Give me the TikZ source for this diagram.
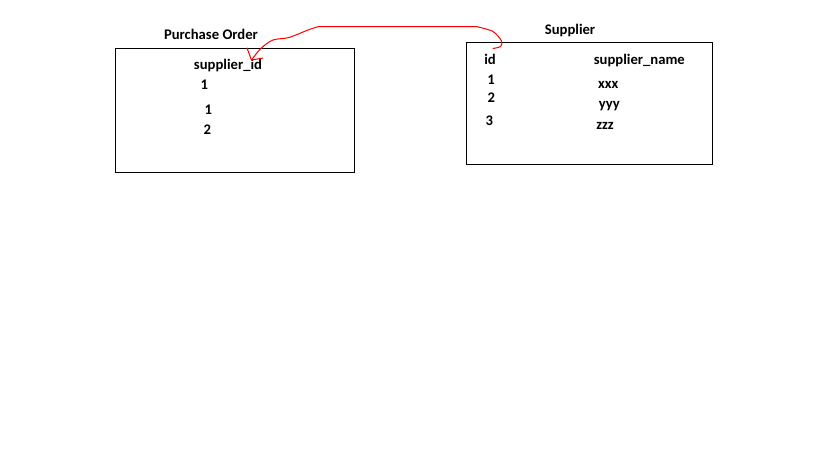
\documentclass[tikz,border=0pt]{standalone}
\usepackage{fontspec}
\setmainfont{Carlito}
\begin{document}
\begin{tikzpicture}[x=0.75pt,y=-0.75pt,
    every node/.style={font=\fontsize{11}{13}\selectfont\bfseries, inner sep=0pt, anchor=base},
    tablebox/.style={draw, line width=0.75pt, anchor=north west},
    link/.style={red, line width=0.75pt, line join=round, line cap=round}]
  \useasboundingbox (0,0) rectangle (819,460);
  % purchase order table
  \node[tablebox, minimum width=179.25pt, minimum height=93pt] (po) at (115,48) {};
  \node (potitle) at (211,39.5) {Purchase Order};
  \node (sid) at (228,70) {supplier\_id};
  \foreach \x/\y/\val [count=\i] in {204.3/90/1, 208.3/114.3/1, 207.3/134.3/2}
    \node (po\i) at (\x,\y) {\val};
  % supplier table
  \node[tablebox, minimum width=184.5pt, minimum height=91.5pt] (sup) at (466,42) {};
  \node (suptitle) at (570,34.3) {Supplier};
  \node (id) at (490,65) {id};
  \node (sname) at (639.3,65) {supplier\_name};
  \foreach \x/\y/\val [count=\i] in {491/85/1, 491.3/102.3/2, 489.3/125.7/3}
    \node (id\i) at (\x,\y) {\val};
  \foreach \x/\y/\val [count=\i] in {608.3/88.3/xxx, 609.3/109/yyy, 605/130/zzz}
    \node (nm\i) at (\x,\y) {\val};
  % hand drawn link
  \coordinate (from) at ([shift={(23.5,-10)}]sid.base);
  \coordinate (to) at ([shift={(3,-16.5)}]id.base);
  \draw[link] ([shift={(-4.5,-12)}]from) -- (from) -- ++(11.5,-2);
  \draw[link] plot[smooth, tension=0.5] coordinates {(from) (261,48.3) (273,40) (289,37.5) (308,30) (318,26.7)}
    -- plot[smooth, tension=0.5] coordinates {(477,26.7) (493,31.5) (501.5,41) (500.5,46.5) (to)};
\end{tikzpicture}
\end{document}
